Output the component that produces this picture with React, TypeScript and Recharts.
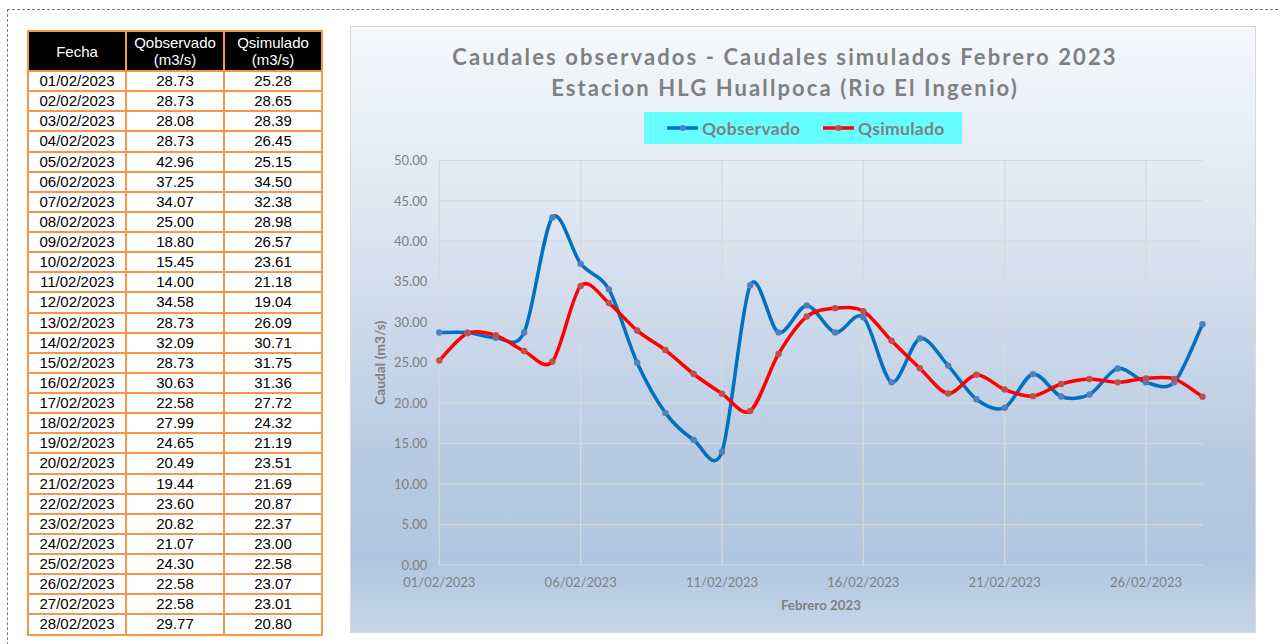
import React from 'react';
import { LineChart, Line, XAxis, YAxis, CartesianGrid, Legend } from 'recharts';

const fechas = [
  '01/02/2023', '02/02/2023', '03/02/2023', '04/02/2023', '05/02/2023', '06/02/2023', '07/02/2023',
  '08/02/2023', '09/02/2023', '10/02/2023', '11/02/2023', '12/02/2023', '13/02/2023', '14/02/2023',
  '15/02/2023', '16/02/2023', '17/02/2023', '18/02/2023', '19/02/2023', '20/02/2023', '21/02/2023',
  '22/02/2023', '23/02/2023', '24/02/2023', '25/02/2023', '26/02/2023', '27/02/2023', '28/02/2023',
];
const qObservado = [
  28.73, 28.73, 28.08, 28.73, 42.96, 37.25, 34.07, 25.0, 18.8, 15.45, 14.0, 34.58, 28.73, 32.09,
  28.73, 30.63, 22.58, 27.99, 24.65, 20.49, 19.44, 23.6, 20.82, 21.07, 24.3, 22.58, 22.58, 29.77,
];
const qSimulado = [
  25.28, 28.65, 28.39, 26.45, 25.15, 34.5, 32.38, 28.98, 26.57, 23.61, 21.18, 19.04, 26.09, 30.71,
  31.75, 31.36, 27.72, 24.32, 21.19, 23.51, 21.69, 20.87, 22.37, 23.0, 22.58, 23.07, 23.01, 20.8,
];
const xTicks = ['01/02/2023', '06/02/2023', '11/02/2023', '16/02/2023', '21/02/2023', '26/02/2023'];
const yTicks = [0, 5, 10, 15, 20, 25, 30, 35, 40, 45, 50];

const data = fechas.map((f, i) => ({ fecha: f, Qobservado: qObservado[i], Qsimulado: qSimulado[i] }));

const BLUE = '#0070c0';
const RED = '#ff0000';
const BLUE_DOT = '#4f81bd';
const RED_DOT = '#c0504d';
const GRAY = '#808080';
const FONT = 'Lato, "Open Sans", sans-serif';

// Excel-like smoothed line (Catmull-Rom through points)
function excelCurve(context: any) {
  let px: number[] = [];
  let py: number[] = [];
  return {
    areaStart() {},
    areaEnd() {},
    lineStart() {
      px = [];
      py = [];
    },
    lineEnd() {
      const n = px.length;
      if (n === 0) return;
      context.moveTo(px[0], py[0]);
      for (let i = 0; i < n - 1; i++) {
        const i0 = Math.max(0, i - 1);
        const i3 = Math.min(n - 1, i + 2);
        const k = 1 / 6.6;
        const c1x = px[i] + (px[i + 1] - px[i0]) * k;
        const c1y = py[i] + (py[i + 1] - py[i0]) * k;
        const c2x = px[i + 1] - (px[i3] - px[i]) * k;
        const c2y = py[i + 1] - (py[i3] - py[i]) * k;
        context.bezierCurveTo(c1x, c1y, c2x, c2y, px[i + 1], py[i + 1]);
      }
    },
    point(x: number, y: number) {
      px.push(+x);
      py.push(+y);
    },
  };
}

const LegendItem = ({ color, dot, label, left }: { color: string; dot: string; label: string; left: number }) => (
  <div style={{ position: 'absolute', left, top: 0, height: 32, display: 'flex', alignItems: 'center' }}>
    <svg width={31} height={10} style={{ marginRight: 4 }}>
      <line x1={0} y1={5} x2={31} y2={5} stroke={color} strokeWidth={3.5} />
      <circle cx={15.5} cy={5} r={3} fill={dot} />
    </svg>
    <span style={{ fontFamily: FONT, fontWeight: 700, fontSize: 17.5, letterSpacing: 0.3, color: GRAY }}>{label}</span>
  </div>
);

const renderLegend = () => (
  <div style={{ position: 'relative', width: 318, height: 32, background: '#66ffff' }}>
    <LegendItem color={BLUE} dot={BLUE_DOT} label="Qobservado" left={23} />
    <LegendItem color={RED} dot={RED_DOT} label="Qsimulado" left={179} />
  </div>
);

const cellBorder = '2px solid #f79646';
const tdStyle: React.CSSProperties = { border: cellBorder, padding: 0, textAlign: 'center', fontSize: 15, lineHeight: '16px' };

export default function App() {
  return (
    <div style={{ position: 'absolute', left: 0, top: 0, width: 1280, height: 644, background: '#fff', overflow: 'hidden' }}>
      <div
        style={{
          position: 'absolute', left: 7, top: 9, width: 1300, height: 700,
          borderTop: '1px dashed #7a7a7a', borderLeft: '1px dashed #7a7a7a',
        }}
      />
      <table
        style={{
          position: 'absolute', left: 27, top: 30, borderCollapse: 'collapse', tableLayout: 'fixed',
          width: 294, fontFamily: '"Liberation Sans", Arial, sans-serif', color: '#000',
        }}
      >
        <colgroup>
          <col style={{ width: 98 }} />
          <col style={{ width: 98 }} />
          <col style={{ width: 98 }} />
        </colgroup>
        <thead>
          <tr style={{ height: 40 }}>
            {['Fecha', 'Qobservado (m3/s)', 'Qsimulado (m3/s)'].map((h, i) => (
              <th
                key={i}
                style={{
                  background: '#000', color: '#fff', fontWeight: 400, fontSize: 15, lineHeight: '17px',
                  border: cellBorder, padding: 0, textAlign: 'center',
                }}
              >
                {i === 0 ? h : (<>{h.split(' ')[0]}<br />{h.split(' ')[1]}</>)}
              </th>
            ))}
          </tr>
        </thead>
        <tbody>
          {fechas.map((f, i) => (
            <tr key={f} style={{ height: 20.14 }}>
              <td style={tdStyle}>{f}</td>
              <td style={tdStyle}>{qObservado[i].toFixed(2)}</td>
              <td style={tdStyle}>{qSimulado[i].toFixed(2)}</td>
            </tr>
          ))}
        </tbody>
      </table>

      <div
        style={{
          position: 'absolute', left: 350, top: 26, width: 906, height: 607,
          background: 'linear-gradient(to bottom, #f6f8fc 0%, #dfe7f2 30%, #b9cbe3 70%, #b0c5e0 88%, #c6d6ea 100%)',
        }}
      >
        <div
          style={{
            position: 'absolute', left: 0, top: 15, width: 870, textAlign: 'center', fontFamily: FONT,
            fontWeight: 700, fontSize: 22, lineHeight: '31px', color: GRAY, letterSpacing: 2.1,
          }}
        >
          Caudales observados - Caudales simulados Febrero 2023
          <br />
          Estacion HLG Huallpoca (Rio El Ingenio)
        </div>
        <LineChart
          width={906}
          height={607}
          data={data}
          margin={{ top: 102.5, right: 53.5, left: 0, bottom: 18 }}
          style={{ position: 'absolute', left: 0, top: 0 }}
        >
          <CartesianGrid stroke="#d9d9d9" strokeWidth={1.2} syncWithTicks verticalValues={xTicks} />
          <XAxis
            dataKey="fecha"
            ticks={xTicks}
            interval={0}
            height={50}
            axisLine={false}
            tickLine={false}
            tickMargin={7}
            tick={{ fill: GRAY, fontSize: 13, fontFamily: FONT }}
            label={{
              value: 'Febrero 2023', position: 'insideBottom', offset: 5,
              style: { fill: GRAY, fontSize: 13.3, fontWeight: 700, fontFamily: FONT },
            }}
          />
          <YAxis
            width={89.3}
            domain={[0, 50]}
            ticks={yTicks}
            interval={0}
            axisLine={false}
            tickLine={false}
            tickMargin={6}
            tickFormatter={(v: number) => v.toFixed(2)}
            tick={{ fill: GRAY, fontSize: 13, fontFamily: FONT }}
            label={{
              value: 'Caudal (m3/s)', angle: -90, position: 'insideLeft', offset: 30,
              style: { textAnchor: 'middle', fill: GRAY, fontSize: 13.8, fontWeight: 700, fontFamily: FONT },
            }}
          />
          <Legend
            verticalAlign="top"
            content={renderLegend}
            wrapperStyle={{ position: 'absolute', top: 86, left: 294, width: 318, height: 32 }}
          />
          <Line
            dataKey="Qobservado"
            type={excelCurve as any}
            stroke={BLUE}
            strokeWidth={3.5}
            dot={{ r: 3.2, fill: BLUE_DOT, stroke: 'none' }}
            activeDot={false}
            isAnimationActive={false}
          />
          <Line
            dataKey="Qsimulado"
            type={excelCurve as any}
            stroke={RED}
            strokeWidth={3.5}
            dot={{ r: 3.2, fill: RED_DOT, stroke: 'none' }}
            activeDot={false}
            isAnimationActive={false}
          />
        </LineChart>
        <div style={{ position: 'absolute', left: 0, top: 0, width: 906, height: 607, boxSizing: 'border-box', border: '1px solid #d9d9d9', pointerEvents: 'none' }} />
      </div>
    </div>
  );
}
